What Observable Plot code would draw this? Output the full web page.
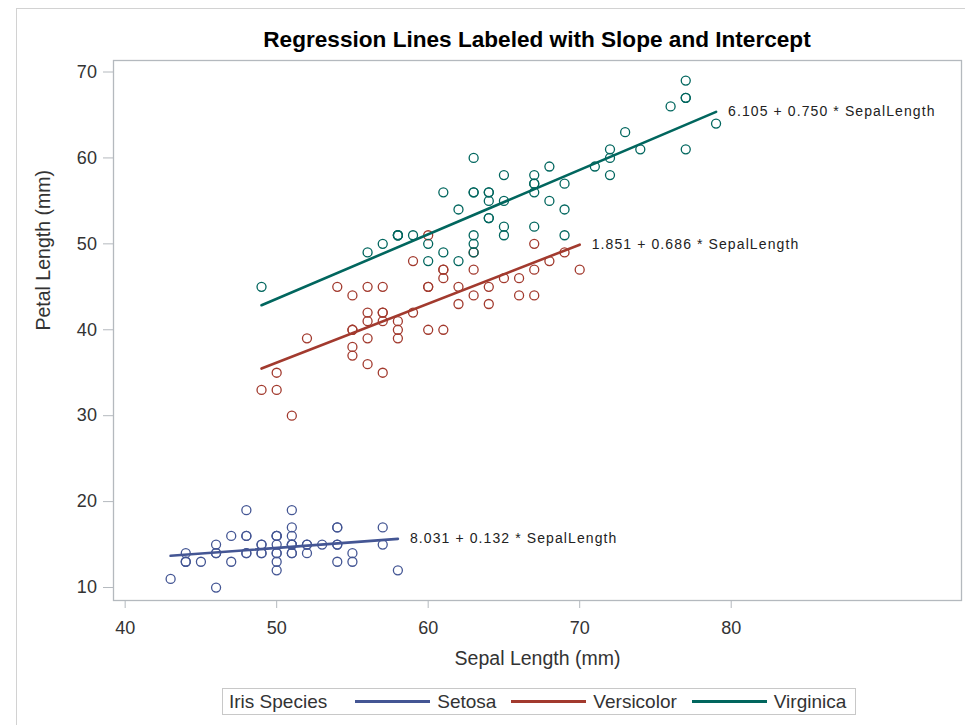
<!DOCTYPE html>
<html>
<head>
<meta charset="utf-8">
<script src="https://cdn.jsdelivr.net/npm/d3@7"></script>
<script src="https://cdn.jsdelivr.net/npm/@observablehq/plot@0.6"></script>
<style>
  body { margin: 0; background: #fff; font-family: "Liberation Sans", Arial, sans-serif; }
  #wrap { position: relative; width: 965px; height: 725px; overflow: hidden; }
  #border { position: absolute; left: 16px; top: 8px; right: -5px; bottom: -5px; border: 1px solid #d2d2d2; }
  #title { position: absolute; left: 113px; width: 848px; top: 27px; text-align: center; font-weight: bold; font-size: 22.6px; line-height: 26px; color: #000; }
  #chart { position: absolute; left: 0; top: 52px; }
  #legend { position: absolute; left: 222px; top: 688px; height: 27px; box-sizing: border-box; border: 1px solid #c8c8c8; display: flex; align-items: center; font-size: 19px; color: #333; padding: 0 9px 0 6px; background: #fff; }
  #legend .ttl { margin-right: 28px; }
  #legend .sw { width: 75px; height: 3px; margin-right: 7px; }
  #legend .item { display: flex; align-items: center; }
  #legend .item + .item { margin-left: 15px; }
  g[aria-description="eq"] text { letter-spacing: 1.1px; }
</style>
</head>
<body>
<div id="wrap">
  <div id="border"></div>
  <div id="title">Regression Lines Labeled with Slope and Intercept</div>
  <div id="chart"></div>
  <div id="legend"></div>
</div>
<script>
// ---- data (Fisher iris, mm) ----
const species = ["Setosa", "Versicolor", "Virginica"];
const colors = ["#445694", "#A23A2E", "#01665E"];

const setosaSepal = [51,49,47,46,50,54,46,50,44,49,54,48,48,43,58,57,54,51,57,51,54,51,46,51,48,50,50,52,52,47,48,54,52,55,49,50,55,49,44,51,50,45,44,50,51,48,51,46,53,50];
const setosaPetal = [14,14,13,15,14,17,14,15,14,15,15,16,14,11,12,15,13,14,17,15,17,15,10,17,19,16,16,15,14,16,16,15,15,14,15,12,13,14,13,15,13,13,13,16,19,14,16,14,15,14];

const versicolorSepal = [70,64,69,55,65,57,63,49,66,52,50,59,60,61,56,67,56,58,62,56,59,61,63,61,64,66,68,67,60,57,55,55,58,60,54,60,67,63,56,55,55,61,58,50,56,57,57,62,51,57];
const versicolorPetal = [47,45,49,40,46,45,47,33,46,39,35,42,40,47,36,44,45,41,45,39,48,40,49,47,43,44,48,50,45,35,38,37,39,51,45,45,47,44,41,40,44,46,40,33,42,42,42,43,30,41];

const virginicaSepal = [63,58,71,63,65,76,49,73,67,72,65,64,68,57,58,64,65,77,77,60,69,56,77,63,67,72,62,61,64,72,74,79,64,63,61,77,63,64,60,69,67,69,58,68,67,67,63,65,62,59];
const virginicaPetal = [60,51,59,56,58,66,45,63,58,61,51,53,55,50,51,53,55,67,69,50,57,49,67,49,57,60,48,49,56,58,61,64,56,51,56,61,56,55,48,54,56,51,51,59,57,52,50,52,54,51];

const intercepts = ["8.031", "1.851", "6.105"];
const slopes = ["0.132", "0.686", "0.750"];

const xTicks = [40, 50, 60, 70, 80];
const yTicks = [10, 20, 30, 40, 50, 60, 70];

const xLabel = "Sepal Length (mm)";
const yLabel = "Petal Length (mm)";
const legendTitle = "Iris Species";

// ---- build table ----
const sepals = [setosaSepal, versicolorSepal, virginicaSepal];
const petals = [setosaPetal, versicolorPetal, virginicaPetal];
const data = [];
species.forEach((s, i) => sepals[i].forEach((x, j) => data.push({species: s, sl: x, pl: petals[i][j]})));

const labelRows = species.map((s, i) => {
  const mx = d3.max(sepals[i]);
  return {species: s, x: mx, y: +intercepts[i] + (+slopes[i]) * mx, label: `${intercepts[i]} + ${slopes[i]} * SepalLength`};
});

const gray = "#b4b9be";
const chart = Plot.plot({
  width: 965,
  height: 630,
  marginLeft: 113,
  marginRight: 4,
  marginTop: 8,
  marginBottom: 82,
  x: {domain: [39.23, 95.2]},
  y: {domain: [8.49, 71.34]},
  color: {domain: species, range: colors},
  style: {fontFamily: '"Liberation Sans", Arial, sans-serif', background: "transparent", overflow: "visible"},
  marks: [
    Plot.frame({stroke: gray, strokeWidth: 1.3}),
    Plot.axisX(xTicks, {tickSize: 8, tickFormat: () => "", stroke: gray, label: null}),
    Plot.axisX(xTicks, {tickSize: 0, tickPadding: 21, fontSize: 18, fill: "#333", label: null}),
    Plot.axisY(yTicks, {tickSize: 10, tickFormat: () => "", stroke: gray, label: null}),
    Plot.axisY(yTicks, {tickSize: 0, tickPadding: 16.6, fontSize: 18, fill: "#333", label: null}),
    Plot.text([xLabel], {text: d => d, frameAnchor: "bottom", dy: 64, fontSize: 19.5, fill: "#333"}),
    Plot.text([yLabel], {text: d => d, frameAnchor: "left", dx: -70, rotate: -90, fontSize: 19.5, fill: "#333"}),
    Plot.dot(data, {x: "sl", y: "pl", stroke: "species", r: 4.5, strokeWidth: 1.3}),
    Plot.linearRegressionY(data, {x: "sl", y: "pl", stroke: "species", ci: 0, strokeWidth: 2.6}),
    Plot.text(labelRows, {x: "x", y: "y", text: "label", dx: 12, textAnchor: "start", fontSize: 14, fill: "#222", ariaDescription: "eq"})
  ]
});
document.getElementById("chart").appendChild(chart);

// ---- legend ----
const lg = document.getElementById("legend");
const t = document.createElement("span");
t.className = "ttl";
t.textContent = legendTitle;
lg.appendChild(t);
species.forEach((s, i) => {
  const it = document.createElement("span");
  it.className = "item";
  const sw = document.createElement("span");
  sw.className = "sw";
  sw.style.background = colors[i];
  const lb = document.createElement("span");
  lb.textContent = s;
  it.appendChild(sw);
  it.appendChild(lb);
  lg.appendChild(it);
});
</script>
</body>
</html>
